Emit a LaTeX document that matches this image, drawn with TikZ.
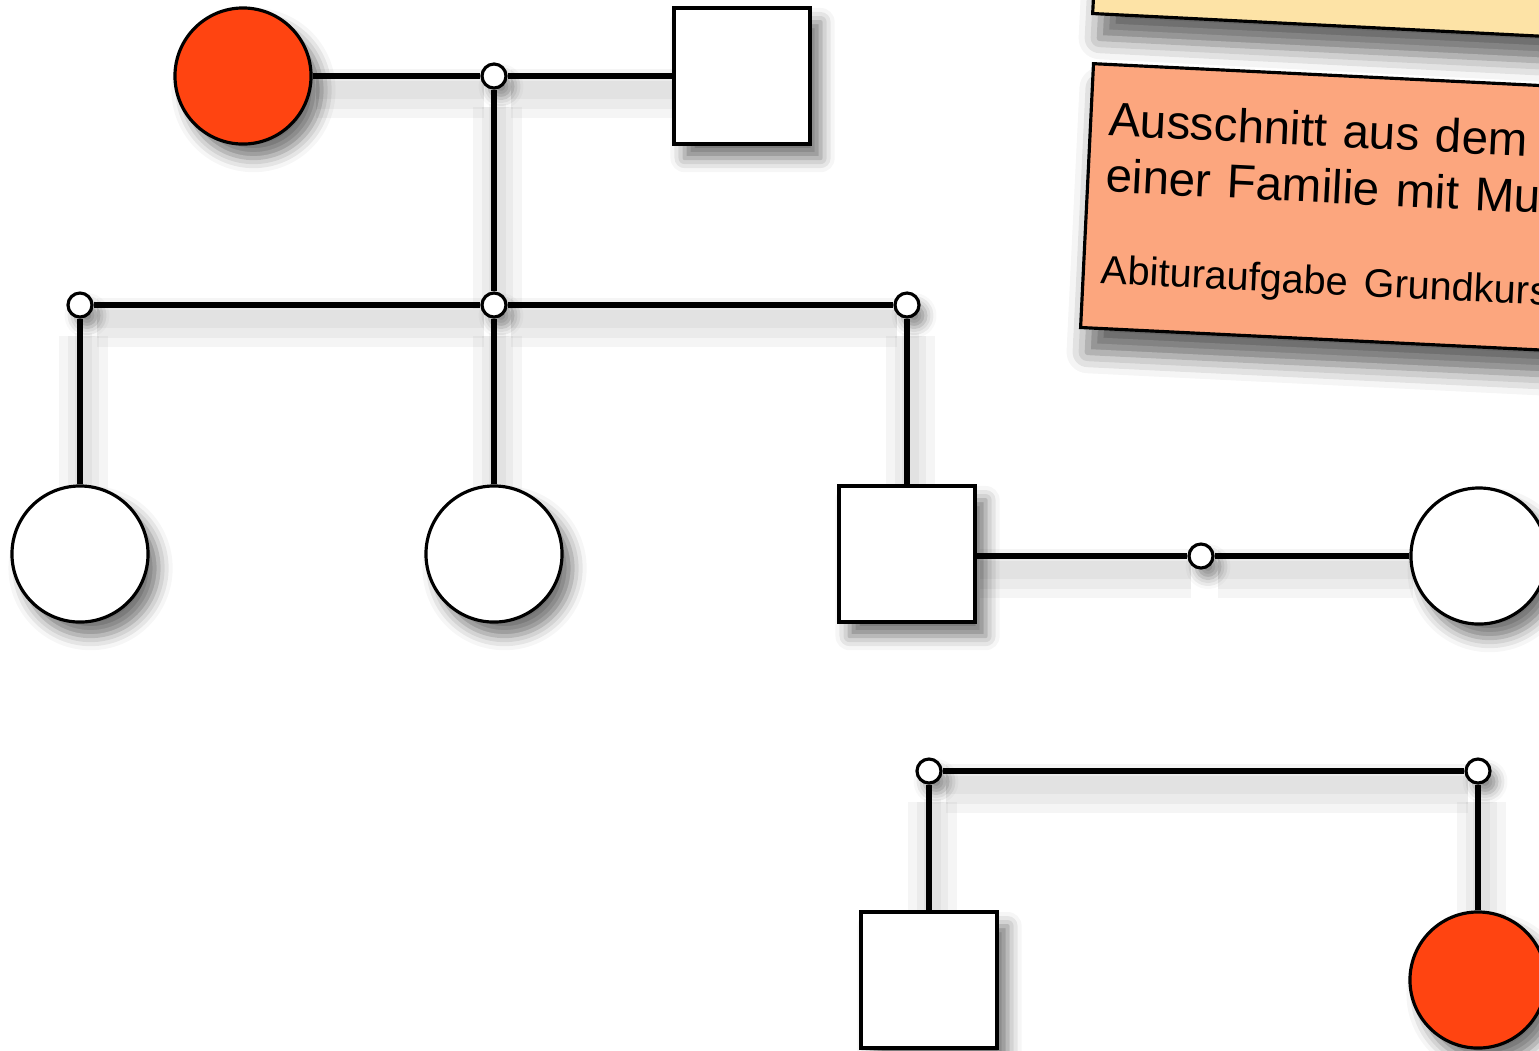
\documentclass[tikz,border=0pt]{standalone}
\usepackage{fontspec}
\setmainfont{Liberation Sans}
\usetikzlibrary{shadows.blur,backgrounds}
\definecolor{affected}{RGB}{255,68,17}
\definecolor{notecolor}{RGB}{252,166,126}
\definecolor{titlecolor}{RGB}{253,227,166}

\begin{document}
\begin{tikzpicture}[x=0.01cm, y=-0.01cm,
  person/.style={draw, line width=0.9pt, fill=white, minimum size=1.36cm, inner sep=0pt,
    blur shadow={shadow xshift=3pt, shadow yshift=-4pt, shadow blur radius=4pt, shadow opacity=55}},
  female/.style={person, circle},
  male/.style={person, rectangle},
  ill/.style={fill=affected},
  knot/.style={draw, circle, line width=0.9pt, fill=white, minimum size=0.24cm, inner sep=0pt,
    blur shadow={shadow xshift=2pt, shadow yshift=-3pt, shadow blur radius=3pt, shadow opacity=45}},
  bond/.style={line width=1.5pt,
    preaction={draw=black, draw opacity=0.04, line width=14pt, transform canvas={xshift=1pt, yshift=-5pt}},
    preaction={draw=black, draw opacity=0.04, line width=9pt, transform canvas={xshift=1pt, yshift=-5pt}},
    preaction={draw=black, draw opacity=0.04, line width=5pt, transform canvas={xshift=1pt, yshift=-4pt}}},
  note/.style={draw, line width=0.9pt,
    blur shadow={shadow xshift=2pt, shadow yshift=-7pt, shadow blur radius=6pt, shadow opacity=60}}]
\clip (0,0) rectangle (1539,1050);

% Notes
\node[note, fill=titlecolor, rotate=-2.9, anchor=south west, minimum width=5.6cm, minimum height=1.4cm] (title) at (1091,15) {};
\node[note, fill=notecolor, rotate=-2.8, anchor=north west, text width=5.6cm, align=left, inner sep=0.18cm, minimum height=2.64cm,
  font=\fontsize{13.5}{16}\selectfont] (info) at (1092,62)
  {Ausschnitt aus dem\\einer Familie mit Mu\\[10pt]\fontsize{11.3}{13}\selectfont Abituraufgabe Grundkurs};

% Parents
\node[female, ill] (grandma) at (243,76) {};
\node[male] (grandpa) at (742,76) {};
\node[knot] (k1) at (494,76) {};

% Children
\node[knot] (k2) at (494,305) {};
\node[knot] (k3) at (80,305) {};
\node[knot] (k4) at (907,305) {};
\node[female] (daughter1) at (80,554) {};
\node[female] (daughter2) at (494,554) {};
\node[male] (son) at (907,554) {};
\node[knot] (k5) at (1201,556) {};
\node[female] (wife) at (1479,556) {};

% Grandchildren
\node[knot] (k6) at (929,771) {};
\node[knot] (k7) at (1478,771) {};
\node[male] (boy) at (929,980) {};
\node[female, ill] (girl) at (1478,980) {};

% Lines
\begin{scope}[on background layer]
\draw[bond] (grandma) -- (k1) -- (grandpa);
\draw[bond] (k1) -- (k2);
\draw[bond] (k3) -- (k2) -- (k4);
\draw[bond] (k3) -- (daughter1);
\draw[bond] (k2) -- (daughter2);
\draw[bond] (k4) -- (son);
\draw[bond] (son.east |- k5) -- (k5) -- (wife);
\draw[bond] (k6) -- (k7);
\draw[bond] (k6) -- (boy);
\draw[bond] (k7) -- (girl);
\end{scope}
\end{tikzpicture}
\end{document}
